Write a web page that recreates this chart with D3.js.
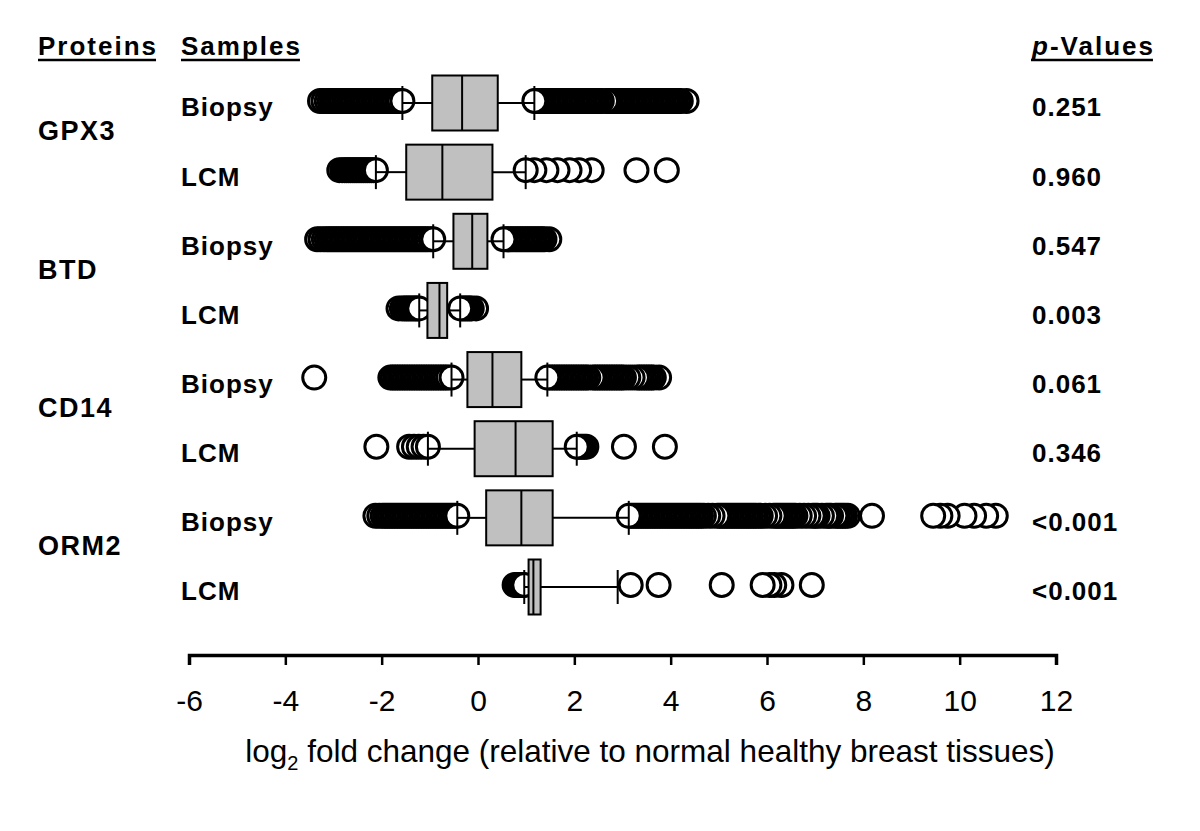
<!DOCTYPE html>
<html>
<head>
<meta charset="utf-8">
<script src="https://cdn.jsdelivr.net/npm/d3@7"></script>
<style>
  html, body { margin: 0; padding: 0; background: #fff; }
  svg { display: block; }
  text { font-family: "Liberation Sans", Arial, sans-serif; fill: #000; }
</style>
</head>
<body>
<svg id="chart" width="1200" height="831"></svg>
<script>
// ---------------- data ----------------
const proteins = ["GPX3", "BTD", "CD14", "ORM2"];
const samples = ["Biopsy", "LCM"];
const pValues = ["0.251", "0.960", "0.547", "0.003", "0.061", "0.346", "<0.001", "<0.001"];
const q1 = [-0.95, -1.49, -0.51, -1.05, -0.22, -0.07, 0.17, 1.05];
const median = [-0.33, -0.74, -0.12, -0.80, 0.30, 0.78, 0.90, 1.15];
const q3 = [0.41, 0.30, 0.195, -0.64, 0.90, 1.55, 1.55, 1.30];
const whiskerLow = [-1.57, -2.12, -0.93, -1.22, -0.55, -1.04, -0.43, 0.96];
const whiskerHigh = [1.17, 0.99, 0.53, -0.37, 1.44, 2.05, 3.13, 2.90];
const outliers = [
  // GPX3 Biopsy
  [-3.28,-3.21,-3.14,-3.08,-3.03,-2.98,-2.93,-2.88,-2.83,-2.78,-2.73,-2.68,-2.63,-2.58,-2.53,-2.48,-2.43,-2.38,-2.33,-2.28,-2.23,-2.18,-2.13,-2.08,-2.03,-1.98,-1.93,-1.88,-1.83,-1.78,-1.73,-1.68,-1.63,-1.57,
   1.17,1.22,1.27,1.32,1.37,1.42,1.47,1.52,1.57,1.62,1.67,1.72,1.77,1.82,1.87,1.92,1.97,2.02,2.07,2.12,2.17,2.22,2.27,2.32,2.37,2.42,2.47,2.52,2.57,2.66,2.71,2.76,2.81,2.86,2.91,2.96,3.01,3.06,3.11,3.16,3.21,3.26,3.31,3.36,3.41,3.46,3.51,3.56,3.61,3.66,3.71,3.76,3.81,3.86,3.91,3.96,4.01,4.06,4.11,4.16,4.21,4.33],
  // GPX3 LCM
  [-2.88,-2.82,-2.77,-2.73,-2.69,-2.65,-2.61,-2.57,-2.53,-2.49,-2.45,-2.41,-2.37,-2.33,-2.29,-2.25,-2.21,-2.17,-2.12,
   0.99,1.17,1.42,1.65,1.90,2.10,2.36,3.29,3.92],
  // BTD Biopsy
  [-3.34,-3.27,-3.20,-3.14,-3.09,-3.04,-2.99,-2.94,-2.89,-2.84,-2.79,-2.74,-2.69,-2.64,-2.59,-2.54,-2.49,-2.44,-2.39,-2.34,-2.29,-2.24,-2.19,-2.14,-2.09,-2.04,-1.99,-1.94,-1.89,-1.84,-1.79,-1.74,-1.69,-1.64,-1.59,-1.54,-1.49,-1.44,-1.39,-1.34,-1.29,-1.24,-1.19,-1.14,-1.09,-1.04,-0.98,-0.93,
   0.53,0.58,0.63,0.68,0.73,0.78,0.83,0.88,0.93,0.98,1.03,1.08,1.13,1.18,1.23,1.28,1.33,1.38,1.48],
  // BTD LCM
  [-1.65,-1.58,-1.53,-1.49,-1.45,-1.41,-1.37,-1.33,-1.29,-1.26,-1.22,
   -0.37,-0.33,-0.29,-0.25,-0.21,-0.17,-0.13,-0.04],
  // CD14 Biopsy
  [-3.40,-1.82,-1.77,-1.72,-1.67,-1.62,-1.57,-1.52,-1.47,-1.42,-1.37,-1.32,-1.27,-1.22,-1.17,-1.12,-1.07,-1.02,-0.97,-0.92,-0.87,-0.82,-0.77,-0.72,-0.67,-0.62,-0.55,
   1.44,1.49,1.54,1.59,1.64,1.69,1.74,1.79,1.84,1.89,1.94,1.99,2.04,2.09,2.14,2.19,2.24,2.29,2.38,2.43,2.48,2.53,2.58,2.63,2.68,2.73,2.78,2.83,2.88,2.93,2.98,3.03,3.12,3.21,3.30,3.35,3.40,3.45,3.50,3.55,3.60,3.65,3.76],
  // CD14 LCM
  [-2.11,-1.43,-1.33,-1.23,-1.13,-1.04,
   2.05,2.10,2.15,2.20,2.25,3.03,3.88],
  // ORM2 Biopsy
  [-2.13,-2.05,-1.98,-1.93,-1.88,-1.83,-1.78,-1.73,-1.68,-1.63,-1.58,-1.53,-1.48,-1.43,-1.38,-1.33,-1.28,-1.23,-1.18,-1.13,-1.08,-1.03,-0.98,-0.93,-0.88,-0.83,-0.78,-0.73,-0.68,-0.63,-0.58,-0.53,-0.48,-0.43,
   3.13,3.18,3.23,3.28,3.33,3.38,3.43,3.48,3.53,3.58,3.63,3.68,3.73,3.78,3.83,3.88,3.93,3.98,4.03,4.08,4.13,4.18,4.23,4.28,4.33,4.38,4.43,4.48,4.53,4.58,4.63,4.69,4.78,4.87,4.97,5.02,5.07,5.12,5.17,5.22,5.27,5.32,5.37,5.42,5.47,5.52,5.57,5.62,5.67,5.72,5.77,5.82,5.87,5.96,6.05,6.14,6.19,6.24,6.29,6.34,6.39,6.44,6.49,6.54,6.59,6.68,6.77,6.86,6.95,7.00,7.05,7.14,7.23,7.28,7.33,7.42,7.47,7.52,7.57,7.62,7.68,8.18,9.45,9.60,9.75,10.10,10.30,10.55,10.75],
  // ORM2 LCM
  [0.76,0.80,0.84,0.88,0.92,0.96,
   3.17,3.75,5.06,5.91,6.05,6.15,6.30,6.93]
];
const xTicks = [-6, -4, -2, 0, 2, 4, 6, 8, 10, 12];
const headers = ["Proteins", "Samples", "p-Values"];

// ---------------- layout ----------------
const rowKeys = [];
proteins.forEach(p => samples.forEach(s => rowKeys.push(p + "|" + s)));

const svg = d3.select("#chart");
const x = d3.scaleLinear().domain([-6, 12]).range([189, 1056]);
const y = d3.scalePoint().domain(rowKeys).range([103, 587]);
const boxH = 55;
const r = 11.5;

const rows = rowKeys.map((k, i) => ({
  key: k, i,
  q1: q1[i], med: median[i], q3: q3[i], lo: whiskerLow[i], hi: whiskerHigh[i],
  out: outliers[i].slice().sort((a, b) => Math.abs(b - median[i]) - Math.abs(a - median[i]))
}));

// outliers (farthest first, closest on top)
const g = svg.append("g");
rows.forEach(d => {
  g.append("g").selectAll("circle").data(d.out).join("circle")
    .attr("cx", v => x(v))
    .attr("cy", y(d.key) - 2)
    .attr("r", r)
    .attr("fill", "#fff")
    .attr("stroke", "#000")
    .attr("stroke-width", 3);
});

// whiskers and caps
rows.forEach(d => {
  const cy = y(d.key);
  g.append("line").attr("x1", x(d.lo)).attr("x2", x(d.q1)).attr("y1", cy).attr("y2", cy)
    .attr("stroke", "#000").attr("stroke-width", 2);
  g.append("line").attr("x1", x(d.q3)).attr("x2", x(d.hi)).attr("y1", cy).attr("y2", cy)
    .attr("stroke", "#000").attr("stroke-width", 2);
  [d.lo, d.hi].forEach(v => {
    g.append("line").attr("x1", x(v)).attr("x2", x(v)).attr("y1", cy - 17).attr("y2", cy + 17)
      .attr("stroke", "#000").attr("stroke-width", 2);
  });
});

// boxes
rows.forEach(d => {
  const cy = y(d.key);
  g.append("rect").attr("x", x(d.q1)).attr("y", cy - boxH / 2)
    .attr("width", x(d.q3) - x(d.q1)).attr("height", boxH)
    .attr("fill", "#c0c0c0").attr("stroke", "#000").attr("stroke-width", 2);
  g.append("line").attr("x1", x(d.med)).attr("x2", x(d.med))
    .attr("y1", cy - boxH / 2).attr("y2", cy + boxH / 2)
    .attr("stroke", "#000").attr("stroke-width", 2);
});

// axis
const axis = svg.append("g").attr("transform", "translate(0,655)")
  .call(d3.axisBottom(x).tickValues(xTicks).tickSize(10).tickSizeOuter(10).tickPadding(25).tickFormat(d => String(d)));
axis.select(".domain").attr("stroke-width", 3.5);
axis.selectAll(".tick line").attr("stroke-width", 2.5);
axis.selectAll(".tick text").style("font-size", "30px").style("font-family", "'Liberation Sans', Arial, sans-serif");

// axis title
const title = svg.append("text").attr("x", 650).attr("y", 762).attr("text-anchor", "middle")
  .style("font-size", "31.5px");
title.append("tspan").text("log");
title.append("tspan").text("2").style("font-size", "20px").attr("dy", 8);
title.append("tspan").text(" fold change (relative to normal healthy breast tissues)").attr("dy", -8);

// headers
const hdrX = [38, 181, 1032];
headers.forEach((h, i) => {
  const t = svg.append("text").attr("x", hdrX[i]).attr("y", 55)
    .style("font-size", "26px").style("font-weight", "bold").style("letter-spacing", "2px");
  if (h.startsWith("p-")) {
    t.append("tspan").text("p").style("font-style", "italic");
    t.append("tspan").text(h.slice(1));
  } else t.text(h);
  const bb = t.node().getBBox();
  svg.append("line").attr("x1", bb.x).attr("x2", bb.x + bb.width - 2)
    .attr("y1", 60).attr("y2", 60).attr("stroke", "#000").attr("stroke-width", 2.5);
});

// protein labels
proteins.forEach((p, i) => {
  const yc = (y(p + "|Biopsy") + y(p + "|LCM")) / 2 - 7;
  svg.append("text").attr("x", 38).attr("y", yc).attr("dy", "0.36em")
    .style("font-size", "27px").style("font-weight", "bold").style("letter-spacing", "1.5px").text(p);
});

// sample labels and p-values
rows.forEach(d => {
  const cy = y(d.key) + 4;
  svg.append("text").attr("x", 181).attr("y", cy).attr("dy", "0.36em")
    .style("font-size", "26px").style("font-weight", "bold").style("letter-spacing", "1px")
    .text(d.key.split("|")[1]);
  svg.append("text").attr("x", 1032).attr("y", cy).attr("dy", "0.36em")
    .style("font-size", "26px").style("font-weight", "bold").style("letter-spacing", "1px")
    .text(pValues[d.i]);
});
</script>
</body>
</html>
